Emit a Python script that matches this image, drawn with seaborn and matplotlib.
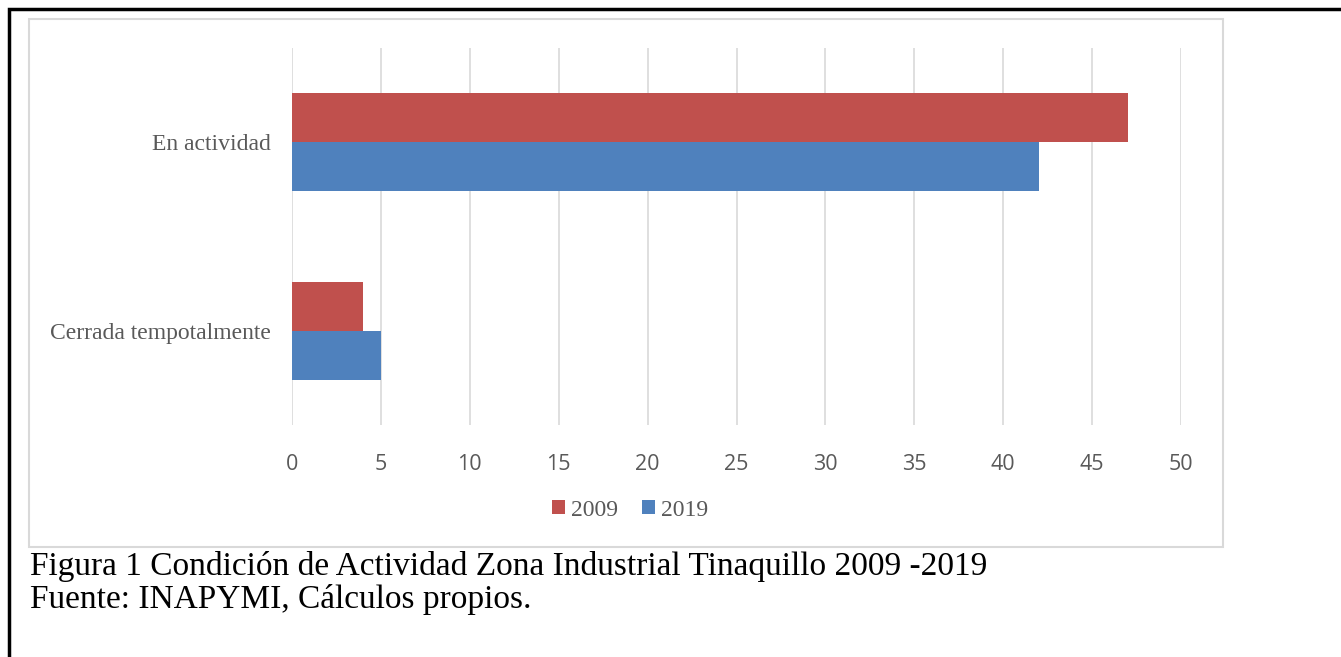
import pandas as pd
import matplotlib.pyplot as plt
import seaborn as sns
from matplotlib.patches import Rectangle

# Values
categories = ['En actividad', 'Cerrada tempotalmente']
years = ['2009', '2019']
values_2009 = [47, 4]
values_2019 = [42, 5]
x_ticks = [0, 5, 10, 15, 20, 25, 30, 35, 40, 45, 50]

df = pd.DataFrame({
    'Condicion': categories * 2,
    'Año': [years[0]] * len(categories) + [years[1]] * len(categories),
    'Empresas': values_2009 + values_2019,
})

palette = {'2009': '#C0504D', '2019': '#4F81BD'}
serif = ['Liberation Serif', 'DejaVu Serif']
gray = '#595959'

sns.set_style('white')
fig = plt.figure(figsize=(13.41, 6.57), dpi=100)
ax = fig.add_axes([292 / 1341, 1 - 425 / 657, (1181 - 292) / 1341, (425 - 48) / 657])

sns.barplot(data=df, x='Empresas', y='Condicion', hue='Año', order=categories,
            hue_order=years, palette=palette, width=0.52, saturation=1,
            edgecolor='none', ax=ax, legend=True)

ax.set_xlim(0, 50)
ax.set_ylim(1.5, -0.5)
ax.set_xticks(x_ticks)
ax.set_xticklabels([str(t) for t in x_ticks], family=['Open Sans', 'DejaVu Sans'],
                   fontsize=15.5, color=gray)
ax.set_yticklabels(categories, family=serif, fontsize=17, color=gray)
ax.tick_params(axis='x', length=0, pad=21)
ax.tick_params(axis='y', length=0, pad=15)
ax.set_xlabel('')
ax.set_ylabel('')
ax.grid(axis='x', color='#d9d9d9', linewidth=1.2)
ax.set_axisbelow(True)
for s in ax.spines.values():
    s.set_visible(False)

handles, labels = ax.get_legend_handles_labels()
ax.get_legend().remove()
fig.legend(handles, labels, loc='center', bbox_to_anchor=(630 / 1341, 1 - 510 / 657),
           ncol=2, frameon=False, handlelength=0.55, handleheight=0.55,
           handletextpad=0.25, columnspacing=1.0,
           prop={'family': serif, 'size': 17}, labelcolor=gray)

# inner chart frame (gray) and outer document frame (black)
fig.patches.append(Rectangle((29 / 1341, 1 - 547 / 657), (1223 - 29) / 1341, (547 - 19) / 657,
                             transform=fig.transFigure, fill=False, edgecolor='#d9d9d9', linewidth=1.5))
fig.patches.append(Rectangle((9 / 1341, -0.05), 1.1, 1 - 9 / 657 + 0.05,
                             transform=fig.transFigure, fill=False, edgecolor='black', linewidth=2.5))

fig.text(30 / 1341, 1 - 575 / 657, 'Figura 1 Condición de Actividad Zona Industrial Tinaquillo 2009 -2019',
         family=serif, fontsize=24, va='baseline', ha='left', color='black')
fig.text(30 / 1341, 1 - 608 / 657, 'Fuente: INAPYMI, Cálculos propios.',
         family=serif, fontsize=24, va='baseline', ha='left', color='black')

fig.savefig('out.png', dpi=100)
